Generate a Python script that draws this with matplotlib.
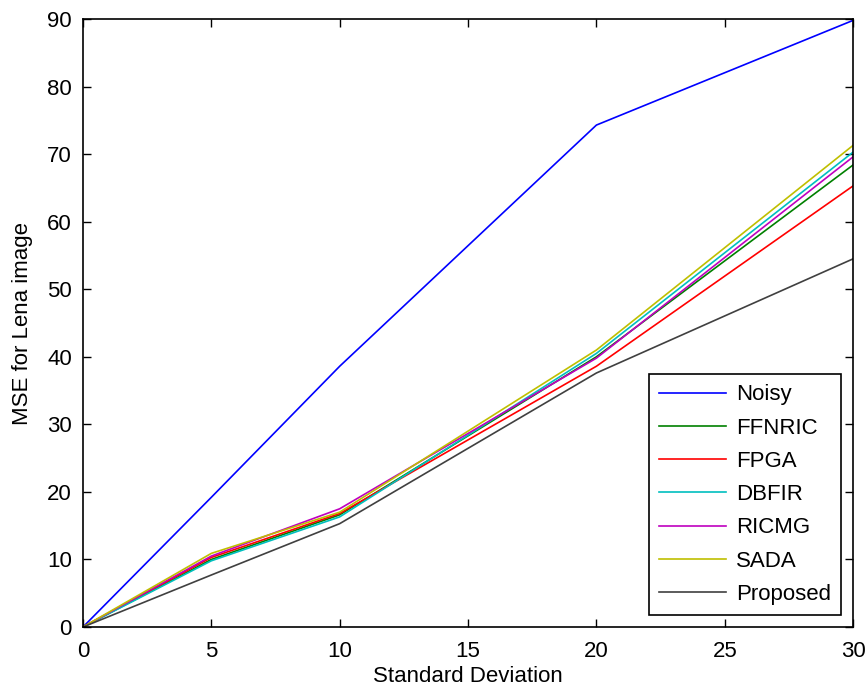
import numpy as np
import matplotlib.pyplot as plt

plt.rcParams['font.family'] = ['Liberation Sans', 'DejaVu Sans']

# standard deviation of the added noise
sigma = [0, 5, 10, 20, 30]

# MSE for Lena image
mse_noisy = [0, 19.2, 38.6, 74.3, 89.8]
mse_ffnric = [0, 10.0, 16.6, 40.0, 68.4]
mse_fpga = [0, 10.3, 16.8, 38.6, 65.3]
mse_dbfir = [0, 9.8, 16.3, 40.5, 70.3]
mse_ricmg = [0, 10.5, 17.5, 39.8, 69.6]
mse_sada = [0, 10.9, 17.0, 41.0, 71.3]
mse_proposed = [0, 7.7, 15.3, 37.6, 54.5]

names = ["Noisy", "FFNRIC", "FPGA", "DBFIR", "RICMG", "SADA", "Proposed"]
colors = ["#0000ff", "#008000", "#ff0000", "#00bfbf", "#bf00bf", "#bfbf00", "#404040"]
series = [mse_noisy, mse_ffnric, mse_fpga, mse_dbfir, mse_ricmg, mse_sada, mse_proposed]

fig = plt.figure(figsize=(8.67, 6.91), dpi=100)
ax = fig.add_axes([0.0957, 0.0926, 0.8883, 0.8799])

for vals, name, c in zip(series, names, colors):
    ax.plot(sigma, vals, color=c, lw=1.2, label=name)

ax.set_xlim(0, 30)
ax.set_ylim(0, 90)
ax.set_xticks(np.arange(0, 31, 5))
ax.set_yticks(np.arange(0, 91, 10))
ax.tick_params(direction='in', top=True, right=True, length=6, width=1,
               labelsize=16)
ax.tick_params(axis='x', pad=10)
ax.tick_params(axis='y', pad=8)
for s in ax.spines.values():
    s.set_linewidth(1.2)

ax.set_xlabel("Standard Deviation", fontsize=16, labelpad=3)
ax.set_ylabel("MSE for Lena image", fontsize=16, labelpad=10)

leg = ax.legend(loc="lower right", fontsize=16, fancybox=False, framealpha=1,
                edgecolor='black', handlelength=3.0, labelspacing=0.55,
                borderaxespad=0.55, handletextpad=0.45, borderpad=0.45)
leg.get_frame().set_linewidth(1.2)

fig.savefig("out.png", dpi=100)
